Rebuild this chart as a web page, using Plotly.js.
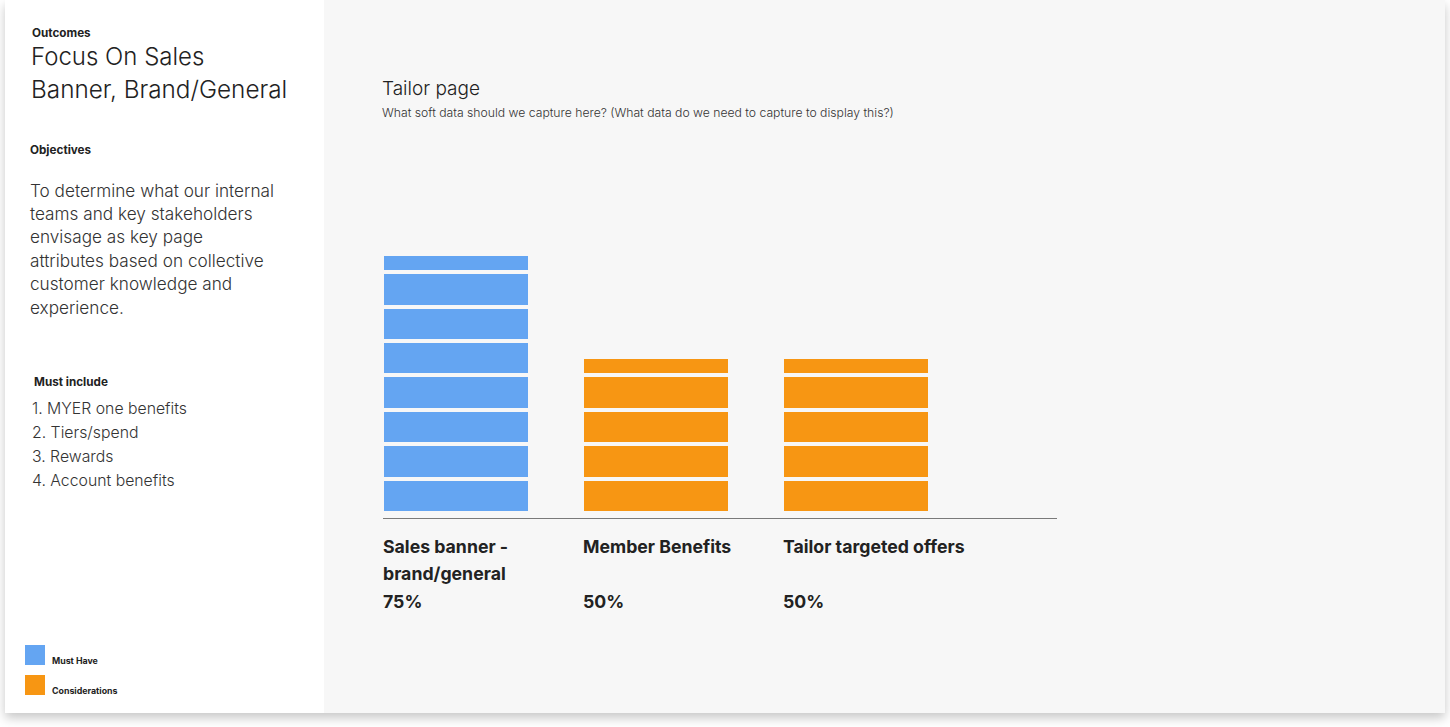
<!DOCTYPE html>
<html>
<head>
<meta charset="utf-8">
<script src="https://cdn.plot.ly/plotly-3.0.1.min.js"></script>
<style>
  html, body { margin:0; padding:0; width:1450px; height:727px; background:#ffffff; overflow:hidden; }
  #card { position:absolute; left:5px; top:0; width:1440px; height:713px; background:#f7f7f7;
          box-shadow: 0 5px 10px rgba(0,0,0,0.22); }
  #side { position:absolute; left:5px; top:0; width:319px; height:713px; background:#ffffff; }
  #chart { position:absolute; left:0; top:0; width:1450px; height:727px; }
</style>
</head>
<body>
<div id="card"></div>
<div id="side"></div>
<div id="chart"></div>
<script>
// ---- data ----
const categories = ['Sales banner -<br>brand/general', 'Member Benefits', 'Tailor targeted offers'];
const shareLabels = ['75%', '50%', '50%'];
const priority = ['Must Have', 'Considerations', 'Considerations'];
// stacked blocks per category (full block = 1, partial top block)
const blocksSales = [1, 1, 1, 1, 1, 1, 1, 0.53];
const blocksMember = [1, 1, 1, 1, 0.53];
const blocksTailor = [1, 1, 1, 1, 0.53];
const legendNames = ['Must Have', 'Considerations'];
const mustInclude = ['1. MYER one benefits', '2. Tiers/spend', '3. Rewards', '4. Account benefits'];
const objectiveLines = ['To determine what our internal', 'teams and key stakeholders', 'envisage as key page',
  'attributes based on collective', 'customer knowledge and', 'experience.'];

// ---- styling ----
const colorOf = {'Must Have': '#64a5f2', 'Considerations': '#f79613'};
const FONT = 'Inter, "Noto Sans", sans-serif';
const TXT = '#222222';

const stacks = [blocksSales, blocksMember, blocksTailor];
const xs = categories.map((c, i) => i);
const maxBlocks = Math.max(...stacks.map(s => s.length));
const traces = [];
for (let k = 0; k < maxBlocks; k++) {
  traces.push({
    type: 'bar',
    x: xs,
    y: stacks.map(s => (k < s.length ? s[k] : null)),
    width: 0.74,
    marker: { color: priority.map(p => colorOf[p]), line: { color: '#f7f7f7', width: 4 } },
    hoverinfo: 'skip',
    showlegend: false
  });
}

// pixel -> paper helpers (plot area: x 383..1057, y 200..518)
const L = 383, W = 674, T = 200, B = 518, H = B - T;
const px = x => (x - L) / W;
const py = y => (B - y) / H;

const ann = [];
function txt(text, x, y, size, bold, color, weight) {
  let t = bold ? '<b>' + text + '</b>' : text;
  ann.push({ text: t, x: px(x - 2), y: py(y), xref: 'paper', yref: 'paper',
    xanchor: 'left', yanchor: 'middle', showarrow: false,
    font: { family: FONT, size: size, color: color || TXT, weight: weight || 'normal' } });
}
// side panel
txt('Outcomes', 32, 33, 11.7, true);
txt('Focus On Sales', 31, 56, 24, false, TXT, 300);
txt('Banner, Brand/General', 31, 89, 24.3, false, TXT, 300);
txt('Objectives', 30, 150, 11.7, true);
objectiveLines.forEach((l, i) => txt(l, 30, 190 + i * 23.4, 17.2, false, '#333', 300));
txt('Must include', 34, 382, 11.7, true);
mustInclude.forEach((l, i) => txt(l, 32, 408 + i * 24, 15.8, false, '#333', 300));
// right title
txt('Tailor page', 382, 88, 19, false, TXT, 300);
txt('What soft data should we capture here? (What data do we need to capture to display this?)', 382, 112, 12.2, false, '#333', 300);

// category labels under bars
categories.forEach((c, i) => {
  c.split('<br>').forEach((line, j) => {
    ann.push({ text: '<b>' + line + '</b>', x: i, xref: 'x', xshift: -75, y: py(546 + j * 27), yref: 'paper',
      xanchor: 'left', yanchor: 'middle', showarrow: false, font: { family: FONT, size: 17.7, color: TXT } });
  });
  ann.push({ text: '<b>' + shareLabels[i] + '</b>', x: i, xref: 'x', xshift: -75, y: py(601), yref: 'paper',
    xanchor: 'left', yanchor: 'middle', showarrow: false, font: { family: FONT, size: 17.7, color: TXT } });
});

// legend (custom squares)
const shapes = [];
legendNames.forEach((n, i) => {
  const yc = 655 + i * 30;
  shapes.push({ type: 'rect', xref: 'paper', yref: 'paper', x0: px(25), x1: px(45), y0: py(yc - 10), y1: py(yc + 10),
    fillcolor: colorOf[n], line: { width: 0 } });
  txt(n, 52, yc + 5, 8.8, true);
});

const layout = {
  width: 1450, height: 727,
  margin: { l: L, r: 1450 - 1057, t: T, b: 727 - B, pad: 0 },
  paper_bgcolor: 'rgba(0,0,0,0)', plot_bgcolor: 'rgba(0,0,0,0)',
  barmode: 'stack', bargap: 0,
  showlegend: false,
  xaxis: { range: [-0.365, 3.005], showgrid: false, zeroline: false, showticklabels: false, ticks: '',
    showline: true, linecolor: '#7a7a7a', linewidth: 1, fixedrange: true },
  yaxis: { range: [-0.145, 9.1], visible: false, fixedrange: true },
  annotations: ann,
  shapes: shapes
};
Plotly.newPlot('chart', traces, layout, { displayModeBar: false, staticPlot: true });
</script>
</body>
</html>
